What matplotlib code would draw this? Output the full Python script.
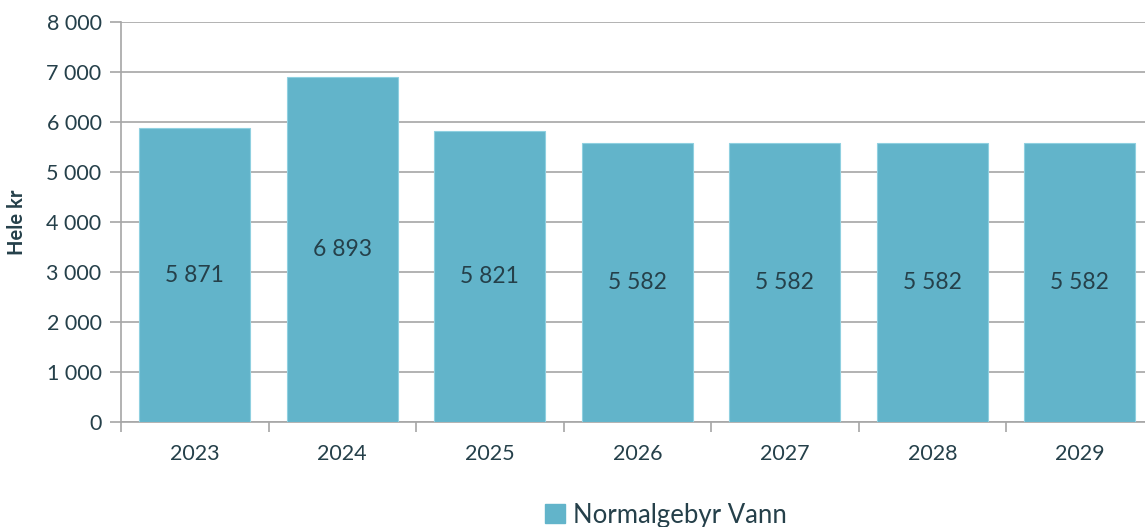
import matplotlib
matplotlib.use("Agg")
import matplotlib.pyplot as plt
from matplotlib.patches import Patch

years = ["2023", "2024", "2025", "2026", "2027", "2028", "2029"]
values = [5871, 6893, 5821, 5582, 5582, 5582, 5582]
y_ticks = [0, 1000, 2000, 3000, 4000, 5000, 6000, 7000, 8000]

BAR = "#62b4ca"
TXT = "#25404a"
GRID = "#a6a6a6"

plt.rcParams["font.family"] = ["Lato", "DejaVu Sans"]

fig = plt.figure(figsize=(11.45, 5.27), dpi=100)
ax = fig.add_axes([121 / 1145, 105 / 527, 1032.5 / 1145, 400 / 527])

x = list(range(len(years)))
ax.bar(x, values, width=0.75, color=BAR, edgecolor="#8fd0e0", linewidth=0.8, zorder=3)

for xi, v in zip(x, values):
    ax.text(xi, v / 2, f"{v:,}".replace(",", " "), ha="center", va="center",
            fontsize=16.5, color=TXT, zorder=4)

ax.set_xlim(-0.5, len(years) - 0.5)
ax.set_ylim(0, 8000)
ax.set_yticks(y_ticks)
ax.set_yticklabels([f"{t:,}".replace(",", " ") for t in y_ticks])
ax.set_xticks(x)
ax.set_xticklabels(years)
ax.set_xticks([i - 0.5 for i in range(len(years) + 1)], minor=True)

ax.yaxis.grid(True, color=GRID, linewidth=1.2, zorder=0)
ax.tick_params(axis="y", length=8, width=1.2, color=GRID, labelsize=15.5, labelcolor=TXT, pad=6)
ax.tick_params(axis="x", which="major", length=0, labelsize=15.5, labelcolor=TXT, pad=16)
ax.tick_params(axis="x", which="minor", length=7, width=1.2, color=GRID)

for s in ["top", "right"]:
    ax.spines[s].set_visible(False)
for s in ["left", "bottom"]:
    ax.spines[s].set_color(GRID)
    ax.spines[s].set_linewidth(1.2)

ax.set_ylabel("Hele kr", fontsize=14.5, fontweight="bold", color=TXT, labelpad=14)

fig.legend(handles=[Patch(facecolor=BAR, edgecolor=BAR)], labels=["Normalgebyr Vann"],
           loc="center", bbox_to_anchor=(666 / 1145, 1 - 515 / 527), frameon=False,
           fontsize=18.5, labelcolor=TXT, handlelength=0.8, handleheight=0.8,
           handletextpad=0.3)

fig.savefig("out.png", dpi=100)
